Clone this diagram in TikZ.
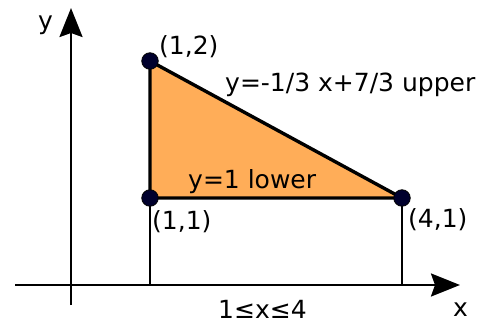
\documentclass[tikz,border=0pt]{standalone}
\usepackage{fontspec}
\setmainfont{DejaVu Sans}
\usetikzlibrary{arrows.meta}
\definecolor{regionfill}{RGB}{255,173,88}
\definecolor{dotfill}{RGB}{0,0,45}
\begin{document}
\begin{tikzpicture}[x=1pt,y=-1pt, font=\fontsize{25}{30}\selectfont,
  lbl/.style={anchor=base west, inner sep=0pt},
  pt/.style={circle, fill=dotfill, draw=black, line width=0.8pt, minimum size=16.5pt, inner sep=0pt},
  axis/.style={line width=2.4pt, -{Stealth[length=29pt,width=23pt,inset=4pt]}},
  edgeline/.style={line width=3.4pt, line join=round},
  dropline/.style={line width=1.4pt}]
\useasboundingbox (0,0) rectangle (491,324);
% axes
\coordinate (yb) at (71,305);
\coordinate (yt) at (71,8);
\coordinate (xl) at (15,285);
\coordinate (xr) at (460,285);
\coordinate (d1) at (150,285);
\coordinate (d4) at (402,285);
\draw[axis] (yb) -- (yt);
\draw[axis] (xl) -- (xr);
% region
\coordinate (A) at (150,61);
\coordinate (B) at (150,198);
\coordinate (C) at (402,198);
\fill[regionfill] (A) -- (B) -- (C) -- cycle;
\draw[edgeline] (A) -- (B) -- (C) -- cycle;
% drop lines
\draw[dropline] (B) -- (d1);
\draw[dropline] (C) -- (d4);
% points
\node[pt] (p12) at (A) {};
\node[pt] (p11) at (B) {};
\node[pt] (p41) at (C) {};
% labels
\node[lbl] (ly) at (38,29) {y};
\node[lbl] (lx) at (453,316) {x};
\node[lbl] (l12) at (159,55) {(1,2)};
\node[lbl] (l11) at (152,229) {(1,1)};
\node[lbl] (l41) at (408,227) {(4,1)};
\node[lbl] (lup) at (225,92) {y=-1/3 x+7/3 upper};
\node[lbl] (llow) at (188,188) {y=1 lower};
\node[lbl] (lrange) at (218,318) {1≤x≤4};
\end{tikzpicture}
\end{document}
